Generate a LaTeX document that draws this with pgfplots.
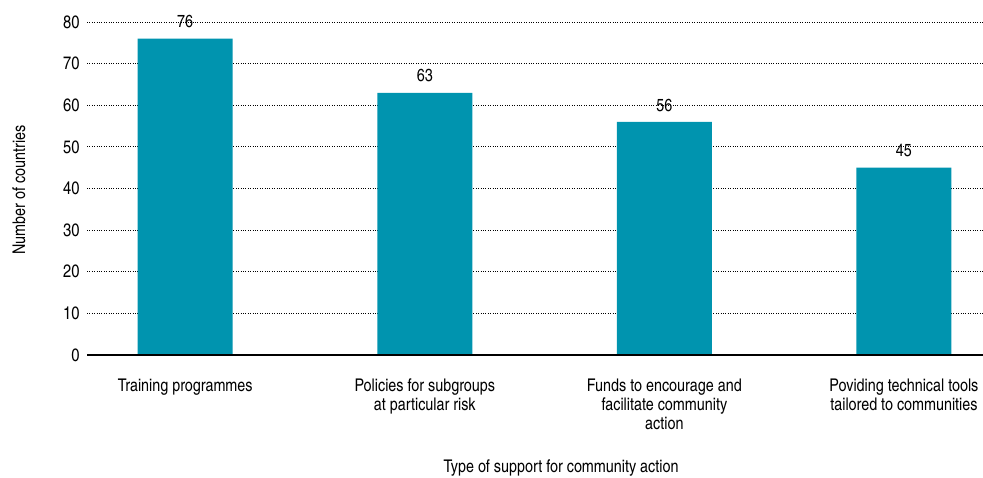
\documentclass[border=0pt]{standalone}
\usepackage{pgfplots}
\pgfplotsset{compat=1.18}
\usepackage{fontspec}
\setmainfont{TeX Gyre Heros Cn}
\definecolor{barteal}{HTML}{0094AF}
\begin{document}
\begin{tikzpicture}[x=1pt,y=1pt]
\useasboundingbox (0,0) rectangle (983,477);
\begin{axis}[
  at={(87pt,122pt)}, anchor=south west,
  scale only axis, width=896pt, height=333pt,
  xmin=-0.41, xmax=3.33, ymin=0, ymax=80,
  axis line style={draw=none},
  ytick={0,10,...,80}, xtick=data,
  xticklabels={},
  ymajorgrids, grid style={black, dotted, line width=0.9pt},
  major tick length=0pt,
  /pgf/number format/assume math mode=true,
  yticklabel style={font=\fontsize{18}{21}\selectfont, xshift=-4pt},
  clip=false,
]
\addplot[ybar, bar width=95pt, fill=barteal, draw=none,
  nodes near coords, every node near coord/.append style={font=\fontsize{17.5}{20}\selectfont, black, yshift=7pt}]
  coordinates {(0,76) (1,63) (2,56) (3,45)};
\draw[black, line width=2.8pt] (axis cs:-0.41,0) -- (axis cs:3.33,0);
\foreach \i/\t in {0/{Training programmes},1/{Policies for subgroups\\at particular risk},2/{Funds to encourage and\\facilitate community\\action},3/{Poviding technical tools\\tailored to communities}}{
  \edef\tmp{\noexpand\node[anchor=north, align=center, font=\noexpand\fontsize{17.5}{19}\noexpand\selectfont, inner sep=0pt] at (axis cs:\i,0) [yshift=-24pt] {\t};}
  \tmp
}
\end{axis}
\node[font=\fontsize{17.5}{20}\selectfont] at (561,9) {Type of support for community action};
\node[font=\fontsize{17.5}{20}\selectfont, rotate=90] at (19,287) {Number of countries};
\end{tikzpicture}
\end{document}
